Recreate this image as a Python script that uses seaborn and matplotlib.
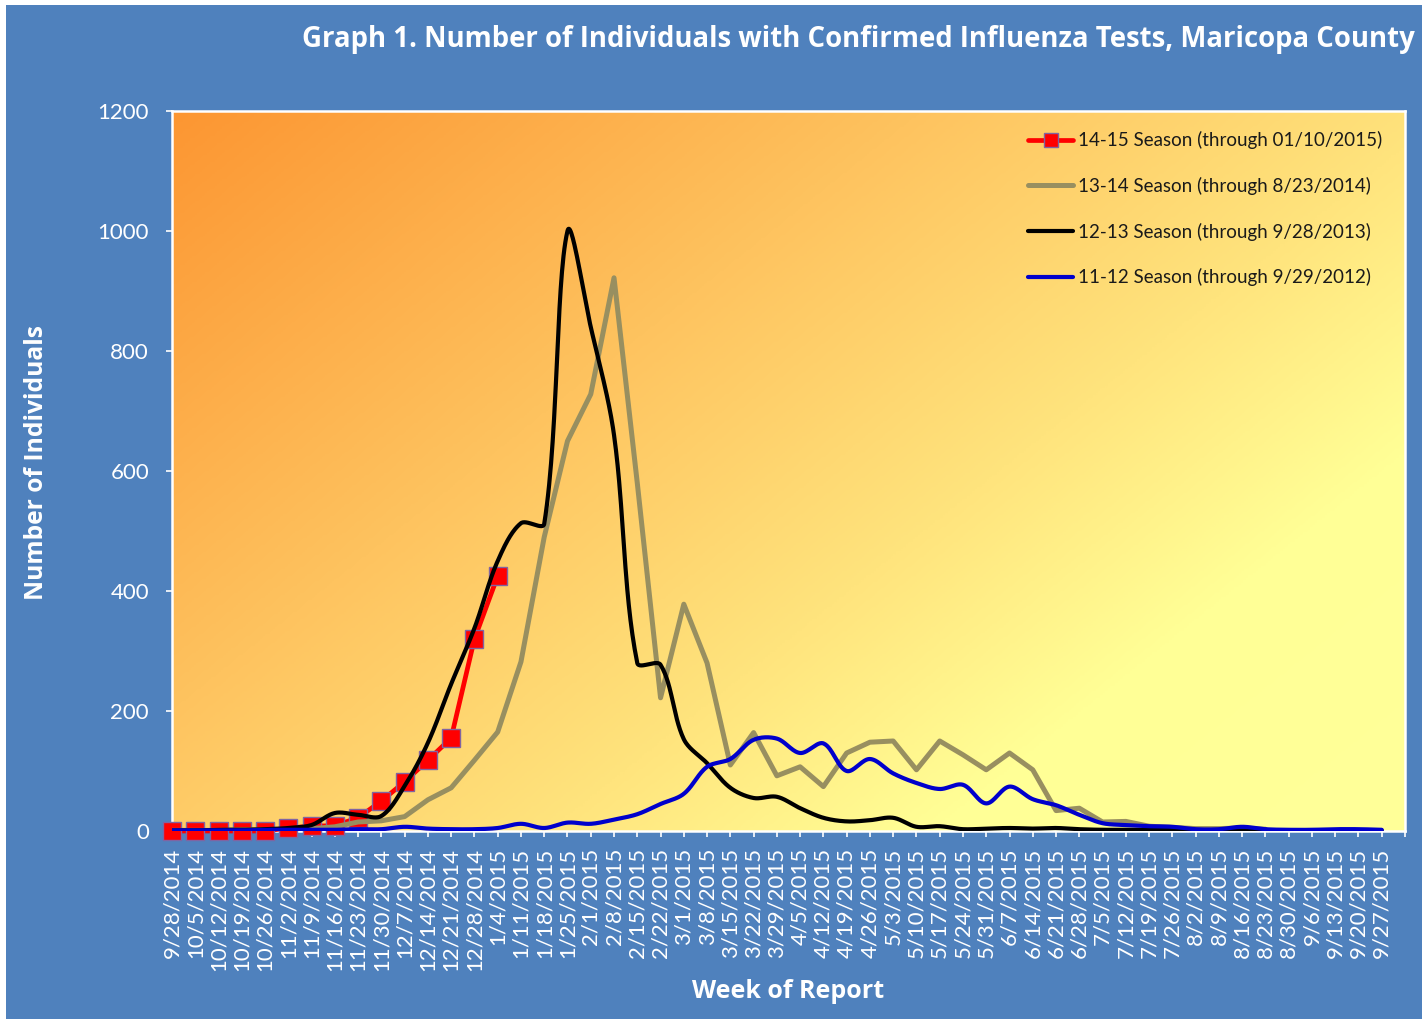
import numpy as np
import pandas as pd
import matplotlib
matplotlib.use("Agg")
import matplotlib.pyplot as plt
from matplotlib.lines import Line2D
from matplotlib.patches import Rectangle
from matplotlib.colors import LinearSegmentedColormap
import seaborn as sns

weeks = ["9/28/2014", "10/5/2014", "10/12/2014", "10/19/2014", "10/26/2014", "11/2/2014",
         "11/9/2014", "11/16/2014", "11/23/2014", "11/30/2014", "12/7/2014", "12/14/2014",
         "12/21/2014", "12/28/2014", "1/4/2015", "1/11/2015", "1/18/2015", "1/25/2015",
         "2/1/2015", "2/8/2015", "2/15/2015", "2/22/2015", "3/1/2015", "3/8/2015",
         "3/15/2015", "3/22/2015", "3/29/2015", "4/5/2015", "4/12/2015", "4/19/2015",
         "4/26/2015", "5/3/2015", "5/10/2015", "5/17/2015", "5/24/2015", "5/31/2015",
         "6/7/2015", "6/14/2015", "6/21/2015", "6/28/2015", "7/5/2015", "7/12/2015",
         "7/19/2015", "7/26/2015", "8/2/2015", "8/9/2015", "8/16/2015", "8/23/2015",
         "8/30/2015", "9/6/2015", "9/13/2015", "9/20/2015", "9/27/2015"]

season_1415 = [0, 0, 0, 0, 0, 5, 8, 9, 22, 50, 82, 118, 155, 320, 425]

season_1314 = [1, 1, 1, 2, 2, 3, 4, 7, 15, 17, 24, 52, 72, 118, 165, 282, 490, 650,
               728, 922, 580, 222, 378, 280, 110, 164, 92, 107, 74, 130, 148, 150,
               102, 150, 127, 102, 130, 102, 34, 38, 15, 16, 8, 6, 4, 4, 5, 3]

season_1213 = [1, 1, 2, 2, 3, 5, 10, 30, 27, 25, 75, 147, 245, 338, 450, 513, 512,
               1000, 840, 660, 280, 277, 153, 113, 72, 55, 57, 38, 22, 16, 18, 22, 7,
               8, 3, 4, 5, 4, 5, 3, 2, 2, 2, 2, 1, 1, 1, 1, 1, 1, 1, 1, 1]

season_1112 = [1, 1, 1, 1, 2, 2, 2, 2, 3, 3, 7, 4, 3, 3, 5, 12, 5, 14, 12, 19, 28,
               45, 62, 107, 120, 152, 154, 130, 146, 100, 120, 96, 80, 70, 77, 46,
               74, 53, 43, 27, 13, 10, 8, 7, 3, 3, 7, 3, 2, 2, 3, 3, 2]

labels = ["14-15 Season (through 01/10/2015)", "13-14 Season (through 8/23/2014)",
          "12-13 Season (through 9/28/2013)", "11-12 Season (through 9/29/2012)"]

title = "Graph 1. Number of Individuals with Confirmed Influenza Tests, Maricopa County"

BLUE_BG = "#4F81BD"
FONT = ["Lato", "DejaVu Sans"]
BOLD_FONT = ["Open Sans", "DejaVu Sans"]

W, H = 1427, 1019
L, R, T, B = 172, 1405, 111, 831
XMAX, YMAX = len(weeks), 1200
SX = (R - L) / XMAX   # px per category
SY = (B - T) / YMAX   # px per unit


def smooth(y, n=30):
    """Excel-like smoothed line: cubic Bezier with chord-weighted control points."""
    y = np.asarray(y, dtype=float)
    x = np.arange(len(y), dtype=float)
    P = np.column_stack([x * SX, y * SY])
    m = len(P)
    xs, ys = [], []
    for i in range(m - 1):
        p0 = P[i - 1] if i > 0 else P[i]
        p1, p2 = P[i], P[i + 1]
        p3 = P[i + 2] if i + 2 < m else P[i + 1]
        d01 = np.linalg.norm(p1 - p0)
        d12 = np.linalg.norm(p2 - p1)
        d23 = np.linalg.norm(p3 - p2)
        f1 = d12 / (d01 + d12) if d01 + d12 > 0 else 0.5
        f2 = d12 / (d12 + d23) if d12 + d23 > 0 else 0.5
        if i == 0:
            f1 = 0.5
        if i + 2 >= m:
            f2 = 0.5
        c1 = p1 + (p2 - p0) * f1 / 3.0
        c2 = p2 - (p3 - p1) * f2 / 3.0
        t = np.linspace(0, 1, n, endpoint=False)[:, None]
        pts = (1 - t) ** 3 * p1 + 3 * (1 - t) ** 2 * t * c1 + 3 * (1 - t) * t ** 2 * c2 + t ** 3 * p2
        xs.append(pts[:, 0] / SX)
        ys.append(pts[:, 1] / SY)
    xs.append([x[-1]])
    ys.append([y[-1]])
    return np.concatenate(xs), np.concatenate(ys)


sns.set_theme(style="white")
plt.rcParams["font.family"] = FONT

fig = plt.figure(figsize=(W / 100, H / 100), dpi=100, facecolor="white")
fig.patches.append(Rectangle((6 / W, 0), 1416 / W, (H - 5) / H, transform=fig.transFigure,
                             facecolor=BLUE_BG, edgecolor="none", zorder=-10))

ax = fig.add_axes([L / W, 1 - B / H, (R - L) / W, (B - T) / H])
ax.set_facecolor("none")

# gradient background of plot area
gh, gw = 300, 500
u = np.linspace(0, 1, gw)[None, :]
v = np.linspace(0, 1, gh)[:, None]
pw, ph = (R - L), (B - T)
a = 0.8
tt = (a * u * pw + v * ph) / (a * pw + ph)
cmap = LinearSegmentedColormap.from_list(
    "grad", [(0.0, (252/255, 150/255, 50/255)), (0.35, (254/255, 195/255, 95/255)),
             (0.6, (255/255, 228/255, 125/255)), (0.78, (255/255, 255/255, 150/255)),
             (1.0, (255/255, 255/255, 153/255))])
ax.imshow(tt, cmap=cmap, vmin=0, vmax=1, extent=(0, 1, 0, 1), transform=ax.transAxes,
          aspect="auto", origin="upper", zorder=0, interpolation="bilinear")

# series
df_red = pd.DataFrame({"x": np.arange(len(season_1415)), "y": season_1415})
sns.lineplot(data=df_red, x="x", y="y", ax=ax, color="#FF0000", lw=3.4, marker="s",
             markersize=12.5, markeredgecolor="#8064A2", markeredgewidth=1.0,
             zorder=3, sort=False, estimator=None, clip_on=False)

df_gray = pd.DataFrame({"x": np.arange(len(season_1314)), "y": season_1314})
sns.lineplot(data=df_gray, x="x", y="y", ax=ax, color="#988F60", lw=3.6, zorder=4,
             sort=False, estimator=None)

bx, by = smooth(season_1213)
sns.lineplot(x=bx, y=by, ax=ax, color="black", lw=3.0, zorder=5, sort=False, estimator=None)

ux, uy = smooth(season_1112)
sns.lineplot(x=ux, y=uy, ax=ax, color="#0000CC", lw=3.0, zorder=6, sort=False, estimator=None)

ax.set_xlim(0, XMAX)
ax.set_ylim(0, YMAX)
ax.set_yticks(range(0, 1201, 200))
ax.set_xticks(np.arange(len(weeks) + 1))
ax.set_xticklabels(weeks + [""], rotation=90, va="top", ha="center")
ax.tick_params(axis="x", colors="white", length=4, width=1.2, pad=8, labelsize=16,
               labelcolor="white", direction="out", bottom=True)
ax.tick_params(axis="y", colors="white", length=4.5, width=1.2, pad=12, labelsize=16,
               labelcolor="white", direction="out", left=True)
ax.set_xlabel("")
ax.set_ylabel("")
for s in ax.spines.values():
    s.set_color("white")
    s.set_linewidth(1.8)
    s.set_visible(True)
ax.grid(False)

# legend
handles = [
    Line2D([], [], color="#FF0000", lw=3.4, marker="s", markersize=10,
           markeredgecolor="#8064A2", markeredgewidth=1.0),
    Line2D([], [], color="#988F60", lw=3.6),
    Line2D([], [], color="black", lw=3.0),
    Line2D([], [], color="#0000CC", lw=3.0),
]
leg = ax.legend(handles, labels, loc="upper left", bbox_to_anchor=(1028 / W, 1 - 131 / H),
                bbox_transform=fig.transFigure, frameon=False, fontsize=13.5,
                handlelength=2.4, handletextpad=0.25, labelspacing=1.48, borderpad=0,
                borderaxespad=0)
for tx in leg.get_texts():
    tx.set_color("#1a1a1a")

fig.text(1415 / W, 1 - 39 / H, title, ha="right", va="center", color="white",
         fontsize=19.8, fontweight="bold", family=BOLD_FONT)
fig.text(37 / W, 1 - 463 / H, "Number of Individuals", rotation=90, ha="center",
         va="center", color="white", fontsize=17.7, fontweight="bold", family=BOLD_FONT)
fig.text(788 / W, 1 - 991 / H, "Week of Report", ha="center", va="center", color="white",
         fontsize=18, fontweight="bold", family=BOLD_FONT)

fig.savefig("out.png", dpi=100, facecolor="white")
